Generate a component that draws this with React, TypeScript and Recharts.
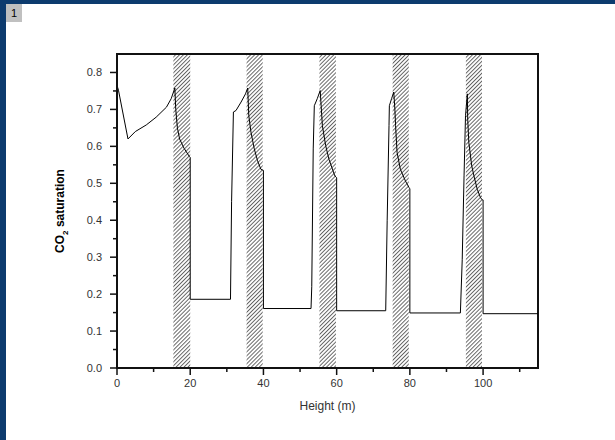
import { LineChart, Line, XAxis, YAxis, ReferenceArea, Label } from 'recharts';

// Saturation profile along the column height (m)
const heights = [
  0, 0.4, 3.0, 5.0, 8.0, 10.7, 13.5, 14.8, 15.8, 16.05, 16.5, 17.1, 18.3, 19.8, 20.0,
  20.0, 31.0, 31.3, 31.8, 32.5, 33.9, 35.1, 35.7, 36.0, 36.6, 37.5, 38.4, 39.3, 39.9, 40.0,
  40.0, 53.0, 53.2, 53.6, 53.9, 54.7, 55.5, 55.7, 56.1, 57.0, 57.9, 59.5, 60.0,
  60.0, 73.4, 73.8, 74.3, 74.4, 75.0, 75.6, 75.9, 76.1, 76.5, 77.4, 78.8, 79.8, 80.0,
  80.0, 93.8, 94.3, 94.8, 95.2, 95.7, 95.8, 96.1, 96.9, 97.5, 98.4, 99.3, 99.8, 100.0,
  100.0, 115.0,
];
const saturation = [
  0.765, 0.752, 0.62, 0.64, 0.658, 0.679, 0.706, 0.729, 0.758, 0.7, 0.65, 0.62, 0.595, 0.572, 0.57,
  0.186, 0.186, 0.45, 0.693, 0.697, 0.72, 0.742, 0.758, 0.683, 0.638, 0.593, 0.561, 0.538, 0.535, 0.535,
  0.161, 0.161, 0.22, 0.593, 0.71, 0.729, 0.751, 0.72, 0.656, 0.602, 0.565, 0.52, 0.515,
  0.155, 0.155, 0.4, 0.656, 0.71, 0.729, 0.747, 0.701, 0.656, 0.584, 0.538, 0.506, 0.488, 0.485,
  0.149, 0.149, 0.293, 0.52, 0.683, 0.742, 0.674, 0.611, 0.547, 0.52, 0.484, 0.461, 0.455, 0.455,
  0.147, 0.147,
];

// hatched zones
const bandStarts = [15.4, 35.4, 55.3, 75.3, 95.3];
const bandEnds = [20, 39.8, 59.8, 79.7, 99.7];

const xTicks = [0, 10, 20, 30, 40, 50, 60, 70, 80, 90, 100, 110];
const xLabelled = [0, 20, 40, 60, 80, 100];
const yTicks = [0, 0.05, 0.1, 0.15, 0.2, 0.25, 0.3, 0.35, 0.4, 0.45, 0.5, 0.55, 0.6, 0.65, 0.7, 0.75, 0.8];
const yLabelled = [0, 0.1, 0.2, 0.3, 0.4, 0.5, 0.6, 0.7, 0.8];

const data = heights.map((h, i) => ({ height: h, sat: saturation[i] }));

const FONT = '"Liberation Sans", Arial, sans-serif';

function XTick(props: any) {
  const { x, y, payload } = props;
  const v = payload.value;
  const major = xLabelled.includes(v);
  return (
    <g>
      <line x1={x} y1={y} x2={x} y2={y + (major ? 7 : 4)} stroke="#111" strokeWidth={1.5} />
      {major && (
        <text x={x} y={y + 19} textAnchor="middle" fontSize={11} fill="#333">
          {v}
        </text>
      )}
    </g>
  );
}

function YTick(props: any) {
  const { x, y, payload } = props;
  const v = payload.value;
  const major = yLabelled.some((t) => Math.abs(t - v) < 1e-6);
  return (
    <g>
      <line x1={x} y1={y} x2={x - (major ? 7 : 4)} y2={y} stroke="#111" strokeWidth={1.5} />
      {major && (
        <text x={x - 15} y={y + 4} textAnchor="end" fontSize={11} fill="#333">
          {v.toFixed(1)}
        </text>
      )}
    </g>
  );
}

export default function App() {
  return (
    <div style={{ position: 'absolute', left: 0, top: 0, width: 615, height: 440, background: '#fff', fontFamily: FONT }}>
      <div style={{ position: 'absolute', left: 0, top: 0, width: 615, height: 4, background: '#0d3b6e' }} />
      <div style={{ position: 'absolute', left: 0, top: 0, width: 6, height: 440, background: '#0d3b6e' }} />
      <div
        style={{
          position: 'absolute', left: 6, top: 4, width: 16, height: 18, background: '#c0c0c0',
          fontSize: 11, lineHeight: '18px', textAlign: 'center', color: '#000',
        }}
      >
        1
      </div>
      <LineChart
        width={615}
        height={440}
        data={data}
        margin={{ top: 54, right: 77, bottom: 0, left: 0 }}
        style={{ fontFamily: FONT }}
      >
        <defs>
          <pattern id="hatch" patternUnits="userSpaceOnUse" width={2.8} height={2.8} patternTransform="rotate(45)">
            <rect width={2.8} height={2.8} fill="#fff" />
            <line x1={0.5} y1={0} x2={0.5} y2={2.8} stroke="#555" strokeWidth={0.9} />
          </pattern>
        </defs>
        {bandStarts.map((s, i) => (
          <ReferenceArea
            key={`band-${i}`}
            x1={s}
            x2={bandEnds[i]}
            y1={0}
            y2={0.85}
            fill="url(#hatch)"
            fillOpacity={1}
            stroke="none"
          />
        ))}
        <XAxis
          dataKey="height"
          type="number"
          domain={[0, 115]}
          ticks={xTicks}
          interval={0}
          allowDataOverflow
          height={72}
          tickSize={0}
          tickMargin={0}
          tickLine={false}
          tick={XTick}
          axisLine={{ stroke: '#111', strokeWidth: 2 }}
        >
          <Label
            content={(p: any) => {
              const vb = p.viewBox;
              return (
                <text x={vb.x + vb.width / 2} y={vb.y + 42} textAnchor="middle" fontSize={12} fill="#333">
                  Height (m)
                </text>
              );
            }}
          />
        </XAxis>
        <YAxis
          type="number"
          domain={[0, 0.85]}
          ticks={yTicks}
          interval={0}
          allowDataOverflow
          width={117}
          tickSize={0}
          tickMargin={0}
          tickLine={false}
          tick={YTick}
          axisLine={{ stroke: '#111', strokeWidth: 2 }}
        >
          <Label
            content={(p: any) => {
              const vb = p.viewBox;
              const cy = vb.y + vb.height / 2;
              return (
                <text
                  x={64}
                  y={cy}
                  transform={`rotate(-90, 64, ${cy})`}
                  textAnchor="middle"
                  fontSize={12}
                  fontWeight="bold"
                  fill="#000"
                >
                  CO<tspan fontSize={8} dy={4}>2</tspan>
                  <tspan dy={-4}> saturation</tspan>
                </text>
              );
            }}
          />
        </YAxis>
        <ReferenceArea x1={0} x2={115} y1={0} y2={0.85} fill="none" stroke="#111" strokeWidth={2} />
        <Line
          type="linear"
          dataKey="sat"
          stroke="#000"
          strokeWidth={1}
          dot={false}
          activeDot={false}
          isAnimationActive={false}
        />
      </LineChart>
    </div>
  );
}
